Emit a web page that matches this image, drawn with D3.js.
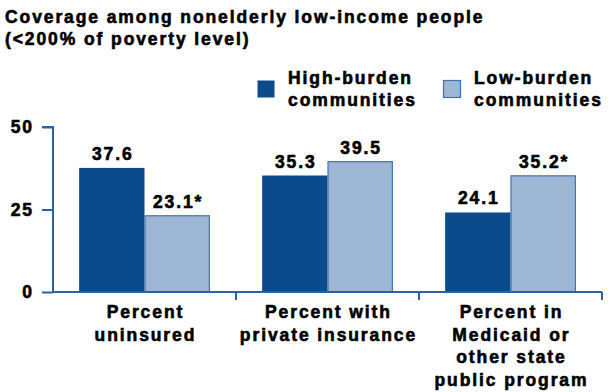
<!DOCTYPE html>
<html>
<head>
<meta charset="utf-8">
<script src="https://cdn.jsdelivr.net/npm/d3@7"></script>
<style>
  html, body { margin: 0; padding: 0; background: #fff; }
  svg { display: block; }
  .lbl { font-family: "Liberation Sans", Arial, sans-serif; font-weight: bold; letter-spacing: 1.9px;
         stroke: #000; stroke-width: 0.6px; paint-order: stroke; fill: #000; }
</style>
</head>
<body>
<svg id="chart" width="608" height="392"></svg>
<script>
// Coverage among nonelderly low-income people, by community burden
const categories = [
  ["Percent", "uninsured"],
  ["Percent with", "private insurance"],
  ["Percent in", "Medicaid or", "other state", "public program"]
];
const seriesNames = [["High-burden", "communities"], ["Low-burden", "communities"]];
const highBurden = [37.6, 35.3, 24.1];
const lowBurden = [23.1, 39.5, 35.2];
const lowBurdenFlags = ["*", "", "*"];
const yTicks = [0, 25, 50];
const titleLines = ["Coverage among nonelderly low-income people", "(<200% of poverty level)"];

const colors = { high: "#0b4a8b", low: "#9db6d3", lowStroke: "#3f72b0", axis: "#2b62a6" };
const fs = 17.5;
const ls = 1.9; // letter spacing, trailing gap compensated on centred text

const svg = d3.select("#chart");
const margin = { left: 53, right: 6 };
const W = 608;

const x0 = d3.scaleBand().domain(d3.range(categories.length))
  .range([margin.left, W - margin.right]).paddingInner(0).paddingOuter(0);
const y = d3.scaleLinear().domain([0, 50]).range([292, 127]);
const x1 = d3.scaleBand().domain([0, 1]).range([0, x0.bandwidth()]).paddingOuter(0.4).paddingInner(0);

// Title
svg.append("g").selectAll("text").data(titleLines).join("text")
  .attr("class", "lbl")
  .attr("x", 5).attr("y", (d, i) => 23 + i * 22)
  .attr("font-size", fs).text(d => d);

// Bars
const data = categories.map((c, i) => [
  { k: 0, v: highBurden[i], label: highBurden[i].toFixed(1) },
  { k: 1, v: lowBurden[i], label: lowBurden[i].toFixed(1) + lowBurdenFlags[i] }
]);
const groups = svg.append("g").selectAll("g").data(data).join("g")
  .attr("transform", (d, i) => `translate(${x0(i)},0)`);
groups.selectAll("rect").data(d => d).join("rect")
  .attr("x", d => x1(d.k) + (d.k === 1 ? 0.5 : 0))
  .attr("width", d => x1.bandwidth() - (d.k === 1 ? 1 : 0))
  .attr("y", d => y(d.v))
  .attr("height", d => y(0) - y(d.v))
  .attr("fill", d => d.k === 0 ? colors.high : colors.low)
  .attr("stroke", d => d.k === 0 ? "none" : colors.lowStroke)
  .attr("stroke-width", 1.2);
groups.selectAll("text").data(d => d).join("text")
  .attr("class", "lbl")
  .attr("x", d => x1(d.k) + x1.bandwidth() / 2 + ls / 2)
  .attr("y", d => y(d.v) - 8)
  .attr("text-anchor", "middle").attr("font-size", fs)
  .text(d => d.label);

// Y axis
const yAxis = d3.axisLeft(y).tickValues(yTicks).tickSize(11).tickPadding(8);
const gy = svg.append("g").attr("transform", `translate(${margin.left},0)`).call(yAxis);
gy.select(".domain").attr("stroke", colors.axis).attr("stroke-width", 2).attr("d", `M-11,${y(50)}H0V${y(0)}`);
gy.selectAll(".tick line").attr("stroke", colors.axis).attr("stroke-width", 2);
gy.selectAll(".tick text").attr("class", "lbl").attr("font-size", fs).attr("font-family", null);

// X axis: baseline with group separators
const gx = svg.append("g");
gx.append("line").attr("x1", margin.left).attr("x2", x0(categories.length - 1) + x0.bandwidth())
  .attr("y1", y(0)).attr("y2", y(0)).attr("stroke", colors.axis).attr("stroke-width", 2);
gx.selectAll("line.sep").data(d3.range(1, categories.length + 1)).join("line")
  .attr("class", "sep")
  .attr("x1", i => x0(i - 1) + x0.bandwidth()).attr("x2", i => x0(i - 1) + x0.bandwidth())
  .attr("y1", y(0)).attr("y2", y(0) + 8).attr("stroke", colors.axis).attr("stroke-width", 2);

// Category labels
const catG = svg.append("g").selectAll("text").data(categories).join("text")
  .attr("class", "lbl")
  .attr("text-anchor", "middle").attr("font-size", fs)
  .attr("transform", (d, i) => `translate(${x0(i) + x0.bandwidth() / 2 + ls / 2},318)`);
catG.selectAll("tspan").data(d => d).join("tspan")
  .attr("x", 0).attr("y", (d, j) => j * 22.5).text(d => d);

// Legend
const legendX = [257, 443];
const lg = svg.append("g").selectAll("g").data(seriesNames).join("g")
  .attr("transform", (d, i) => `translate(${legendX[i]},80)`);
lg.append("rect").attr("x", 0.5).attr("y", 0.5).attr("width", 17).attr("height", 17)
  .attr("fill", (d, i) => i === 0 ? colors.high : colors.low)
  .attr("stroke", (d, i) => i === 0 ? "none" : colors.lowStroke).attr("stroke-width", 1.2);
lg.append("text").attr("class", "lbl").attr("font-size", fs)
  .selectAll("tspan").data(d => d).join("tspan")
  .attr("x", 31).attr("y", (d, j) => 4 + j * 21.5).text(d => d);
</script>
</body>
</html>
